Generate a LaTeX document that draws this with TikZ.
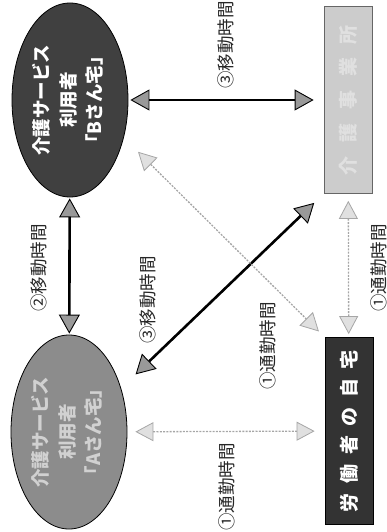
\documentclass[tikz,border=0pt]{standalone}
\usepackage{fontspec}
\newfontfamily\jp{Noto Sans CJK JP}
\usetikzlibrary{arrows.meta,shapes.geometric}
\begin{document}
\begin{tikzpicture}[x=1pt,y=-1pt,
  lbl/.style={rotate=90, font=\jp\fontsize{17.5}{17.5}\selectfont, text=black!85, inner sep=0pt},
  blk/.style={line width=2.6pt, draw=black, {Triangle[length=19pt,width=21pt,fill=black!40,line width=0.9pt]}-{Triangle[length=19pt,width=21pt,fill=black!40,line width=0.9pt]}},
  gry/.style={line width=1.3pt, draw=black!35, dash pattern=on 2pt off 1.3pt, {Triangle[length=18pt,width=19pt,fill=black!12,line width=0.8pt]}-{Triangle[length=18pt,width=19pt,fill=black!12,line width=0.8pt]}},
  user/.style={ellipse, draw=black, line width=0.8pt, minimum width=116pt, minimum height=194pt, inner sep=0pt, font=\jp\bfseries\fontsize{18.5}{26.5}\selectfont},
  place/.style={rectangle, line width=0.8pt, minimum width=48pt, minimum height=187pt, inner sep=0pt, font=\jp\bfseries\fontsize{19}{19}\selectfont}
]
\useasboundingbox (0,0) rectangle (387,532);

\node[user, fill=black!75, text=white] (B) at (70,100)
  {\rotatebox{90}{\begin{tabular}{@{}c@{}}介護サービス\\利用者\\「Bさん宅」\end{tabular}}};
\node[user, fill=black!45, text=black!18] (A) at (69,432)
  {\rotatebox{90}{\begin{tabular}{@{}c@{}}介護サービス\\利用者\\「Aさん宅」\end{tabular}}};
\node[place, draw=black!60, fill=black!20, text=black!12] (O) at (348,100)
  {\rotatebox{90}{\makebox[150pt]{介\hfill 護\hfill 事\hfill 業\hfill 所}}};
\node[place, draw=black, fill=black!80, text=white] (H) at (349,431)
  {\rotatebox{90}{\makebox[162pt]{労\hfill 働\hfill 者\hfill の\hfill 自\hfill 宅}}};

% black arrows
\draw[blk, shorten <=2pt, shorten >=10pt] (B) -- (O);
\draw[blk, shorten <=1pt, shorten >=1pt] (B) -- (A);
\draw[blk, shorten <=20pt, shorten >=13pt] (A.40) -- (O.south west);

% gray dotted arrows
\draw[gry, shorten <=20pt, shorten >=8pt] (B.-35) -- (H.north west);
\draw[gry, shorten <=7pt, shorten >=3pt] (O) -- (H);
\draw[gry, shorten <=8pt, shorten >=10pt] (A) -- (H);

% labels
\node[lbl] (l1) at (226,45) {③移動時間};
\node[lbl] (l2) at (39,268) {②移動時間};
\node[lbl] (l3) at (148,300) {③移動時間};
\node[lbl] (l4) at (268,346) {①通勤時間};
\node[lbl] (l5) at (379,268) {①通勤時間};
\node[lbl] (l6) at (227,487) {①通勤時間};
\end{tikzpicture}
\end{document}
